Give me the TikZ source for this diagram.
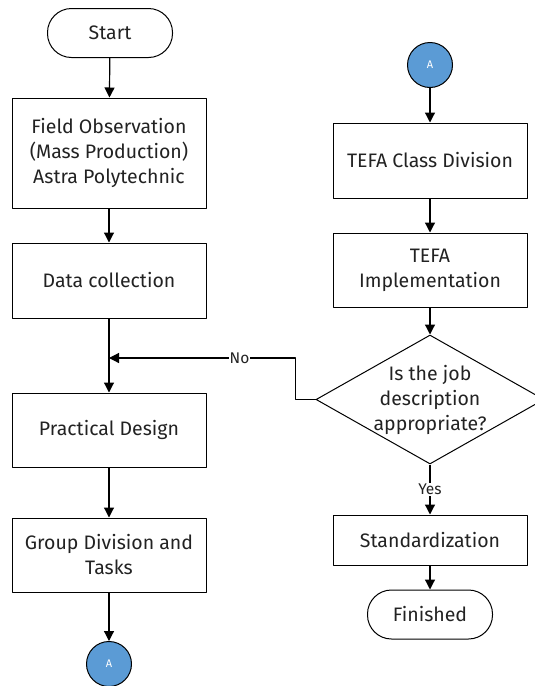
\documentclass[tikz,border=0pt]{standalone}
\usepackage{fontspec}
\setmainfont{Fira Sans}
\usetikzlibrary{shapes.geometric,arrows.meta}
\definecolor{connblue}{HTML}{5B9BD5}
\definecolor{inkgray}{HTML}{222222}

\begin{document}
\begin{tikzpicture}[
  x=1pt,
  y=-1pt,
  line join=round,
  font=\fontsize{19.5}{25}\selectfont,
  text=inkgray,
  process/.style={draw=black,line width=1pt,rectangle,minimum width=194pt,align=center,inner sep=2pt},
  terminal/.style={draw=black,line width=1pt,rectangle,rounded corners=24pt,minimum width=125pt,minimum height=49pt},
  decision/.style={draw=black,line width=1pt,diamond,aspect=1.77,minimum width=228pt,minimum height=129pt,inner sep=-12pt,align=center},
  connector/.style={draw=black,line width=1pt,circle,fill=connblue,minimum size=45pt,inner sep=0pt,text=white,font=\fontsize{11}{13}\selectfont},
  flow/.style={draw=black,line width=1.2pt,-{Triangle[length=10pt,width=10pt]}},
  tag/.style={fill=white,inner sep=1pt,font=\fontsize{15.5}{18}\selectfont}
]
  \useasboundingbox (0,0) rectangle (535,686);

  % Left column.
  \node[terminal] (start) at (110,33) {Start};
  \node[process,minimum height=110pt] (field) at (109,153) {Field Observation\\(Mass Production)\\Astra Polytechnic};
  \node[process,minimum height=75pt] (data) at (109,280.5) {Data collection};
  \node[process,minimum height=74pt] (design) at (109,430) {Practical Design};
  \node[process,minimum height=74pt] (group) at (109,555) {Group Division and\\Tasks};
  \node[connector] (offA) at (109,664) {A};

  % Right column.
  \node[connector] (onA) at (430,65) {A};
  \node[process,minimum height=75pt] (classdiv) at (430,160.5) {TEFA Class Division};
  \node[process,minimum height=74pt] (impl) at (430,270) {TEFA\\Implementation};
  \node[decision] (check) at (430,399.5) {Is the job\\description\\appropriate?};
  \node[process,minimum height=50pt] (std) at (430,540) {Standardization};
  \node[terminal] (finish) at (430,614.5) {Finished};

  % Join point for the loop back.
  \coordinate (merge) at (109,358);

  % Connectors.
  \draw[flow] (start) -- (field);
  \draw[flow] (field) -- (data);
  \draw[flow] (data) -- (design);
  \draw[flow] (design) -- (group);
  \draw[flow] (group) -- (offA);
  \draw[flow] (onA) -- (classdiv);
  \draw[flow] (classdiv) -- (impl);
  \draw[flow] (impl) -- (check);
  \draw[flow] (check) -- node[tag] {Yes} (std);
  \draw[flow] (std) -- (finish);
  \draw[flow] (check.west) -- ++(-20,0) |- node[tag,pos=0.65] {No} (merge);
\end{tikzpicture}
\end{document}
